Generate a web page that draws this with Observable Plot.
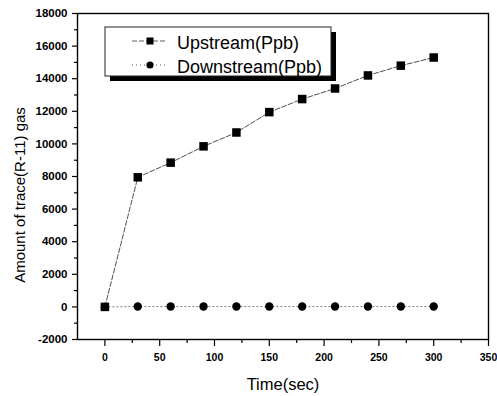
<!DOCTYPE html>
<html><head><meta charset="utf-8">
<script src="https://cdn.jsdelivr.net/npm/d3@7"></script>
<script src="https://cdn.jsdelivr.net/npm/@observablehq/plot@0.6"></script>
<style>
body{margin:0;background:#fff;}
#chart{position:relative;width:497px;height:396px;}
</style>
</head><body><div id="chart"></div>
<script>
const time = [0, 30, 60, 90, 120, 150, 180, 210, 240, 270, 300];
const upstream = [0, 7950, 8850, 9850, 10700, 11950, 12750, 13400, 14200, 14800, 15300];
const downstream = [0, 20, 20, 20, 20, 20, 20, 20, 20, 20, 20];
const seriesNames = ["Upstream(Ppb)", "Downstream(Ppb)"];
const xMajorTicks = [0, 50, 100, 150, 200, 250, 300, 350];
const xMinorTicks = [25, 75, 125, 175, 225, 275, 325];
const yMajorTicks = [-2000, 0, 2000, 4000, 6000, 8000, 10000, 12000, 14000, 16000, 18000];
const yMinorTicks = [-1000, 1000, 3000, 5000, 7000, 9000, 11000, 13000, 15000, 17000];
const xLabel = "Time(sec)";
const yLabel = "Amount of trace(R-11) gas";

const up = time.map((t, i) => ({t, v: upstream[i]}));
const down = time.map((t, i) => ({t, v: downstream[i]}));
const font = '"Liberation Sans", Arial, sans-serif';

const plot = Plot.plot({
  width: 497, height: 396,
  marginLeft: 77, marginRight: 9, marginTop: 13, marginBottom: 57,
  style: {fontFamily: font, background: "#fff", color: "#000"},
  x: {domain: [-25, 350]},
  y: {domain: [-2000, 18000]},
  marks: [
    Plot.line(down, {x: "t", y: "v", stroke: "#444", strokeWidth: 0.8, strokeDasharray: "1,3"}),
    Plot.line(up, {x: "t", y: "v", stroke: "#222", strokeWidth: 0.8, strokeDasharray: "5,2"}),
    Plot.dot(down, {x: "t", y: "v", symbol: "circle", r: 4.2, fill: "#000", stroke: null}),
    Plot.dot(up, {x: "t", y: "v", symbol: "square", r: 4.8, fill: "#000", stroke: null}),
    Plot.frame({stroke: "#000", strokeWidth: 1.4}),
    Plot.axisX(xMajorTicks, {tickSize: 7, tickPadding: 7, fontSize: 10.5, fontWeight: "bold", tickFormat: d => String(d), label: null, strokeWidth: 1.2}),
    Plot.axisX(xMinorTicks, {tickSize: 4, tickFormat: () => "", label: null, strokeWidth: 1.2}),
    Plot.axisY(yMajorTicks, {tickSize: 5, tickPadding: 5, fontSize: 11.5, fontWeight: "bold", tickFormat: d => String(d), label: null, strokeWidth: 1.2}),
    Plot.axisY(yMinorTicks, {tickSize: 3, tickFormat: () => "", label: null, strokeWidth: 1.2}),
    Plot.text([xLabel], {text: d => d, frameAnchor: "bottom", textAnchor: "middle", lineAnchor: "bottom", dy: 50, fontSize: 16.5}),
    Plot.text([yLabel], {text: d => d, frameAnchor: "left", textAnchor: "middle", lineAnchor: "middle", rotate: -90, dx: -57, dy: 18.5, fontSize: 15})
  ]
});
document.getElementById("chart").appendChild(plot);

// legend
const svg = d3.select(plot);
const g = svg.append("g").attr("font-family", font).attr("text-anchor", "start");
g.append("rect").attr("x", 110).attr("y", 32).attr("width", 226).attr("height", 49).attr("fill", "#000");
g.append("rect").attr("x", 105).attr("y", 27).attr("width", 226).attr("height", 49).attr("fill", "#fff").attr("stroke", "#222").attr("stroke-width", 1);
const rows = [
  {name: seriesNames[0], y: 41, dash: "5,2", sym: "square", base: 48.5},
  {name: seriesNames[1], y: 65, dash: "1,3", sym: "circle", base: 72.5}
];
for (const r of rows) {
  g.append("line").attr("x1", 132).attr("x2", 166).attr("y1", r.y).attr("y2", r.y)
    .attr("stroke", "#333").attr("stroke-width", 0.8).attr("stroke-dasharray", r.dash);
  if (r.sym === "square") {
    g.append("rect").attr("x", 146.5).attr("y", r.y - 3.5).attr("width", 7).attr("height", 7).attr("fill", "#000");
  } else {
    g.append("circle").attr("cx", 150).attr("cy", r.y).attr("r", 3.6).attr("fill", "#000");
  }
  g.append("text").attr("x", 177).attr("y", r.base).attr("font-size", 18).attr("fill", "#000").attr("text-anchor", "start").text(r.name);
}
</script>
</body></html>
